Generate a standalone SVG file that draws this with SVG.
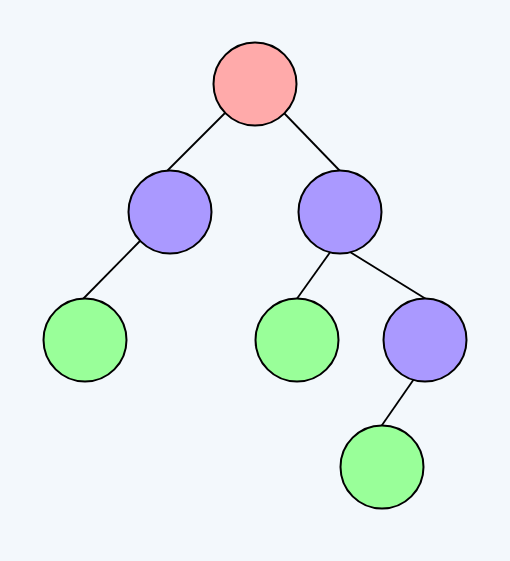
<svg xmlns="http://www.w3.org/2000/svg" width="510" height="561" viewBox="0 0 510 561">
<style>
.n{stroke:#000;stroke-width:2}
.r{fill:#ffaaaa}.p{fill:#aa99ff}.g{fill:#99ff99}
.e{stroke:#000;stroke-width:1.8}
</style>
<rect width="510" height="561" fill="#f3f8fc"/>
<g id="edges">
<line class="e" x1="225" y1="113" x2="166" y2="172"/>
<line class="e" x1="284" y1="113" x2="341" y2="172"/>
<line class="e" x1="140" y1="241" x2="82" y2="300"/>
<line class="e" x1="331" y1="251" x2="296" y2="300"/>
<line class="e" x1="350" y1="252" x2="426" y2="299"/>
<line class="e" x1="414" y1="379" x2="380" y2="428"/>
</g>
<g id="n1"><circle class="n r" cx="255" cy="84" r="41.5"/></g>
<g id="n2"><circle class="n p" cx="170" cy="212" r="41.5"/></g>
<g id="n3"><circle class="n p" cx="340" cy="212" r="41.5"/></g>
<g id="n4"><circle class="n g" cx="85" cy="340" r="41.5"/></g>
<g id="n5"><circle class="n g" cx="297" cy="340" r="41.5"/></g>
<g id="n6"><circle class="n p" cx="425" cy="340" r="41.5"/></g>
<g id="n7"><circle class="n g" cx="382" cy="467" r="41.5"/></g>
</svg>
